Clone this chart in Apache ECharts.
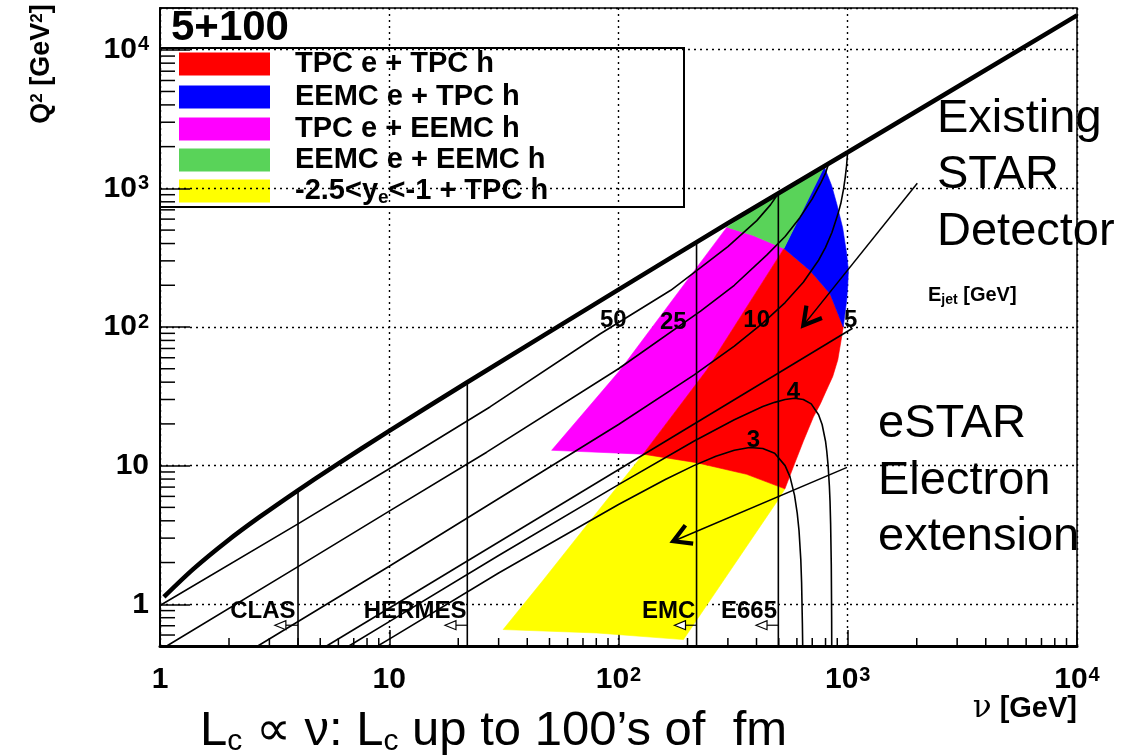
<!DOCTYPE html>
<html><head><meta charset="utf-8">
<script src="https://cdn.jsdelivr.net/npm/echarts@6/dist/echarts.min.js"></script>
<style>html,body{margin:0;padding:0;background:#fff}#c{width:1122px;height:756px}</style>
</head><body><div id="c"></div>
<script>
// ---------------- data ----------------
const xTickValues = [1, 10, 100, 1000, 10000];
const xTickLabels = ['1', '10', '10{sup|2}', '10{sup|3}', '10{sup|4}'];
const yTickValues = [1, 10, 100, 1000, 10000];
const yTickLabels = ['1', '10', '10{sup|2}', '10{sup|3}', '10{sup|4}'];
const xMinorTicks = [2,3,4,5,6,7,8,9,20,30,40,50,60,70,80,90,200,300,400,500,600,700,800,900,2000,3000,4000,5000,6000,7000,8000,9000];
const yMinorTicks = [0.6,0.7,0.8,0.9,2,3,4,5,6,7,8,9,20,30,40,50,60,70,80,90,200,300,400,500,600,700,800,900,2000,3000,4000,5000,6000,7000,8000,9000];

// kinematic limit (thick line), [nu, Q2]
const kinLimit = [[1.04,1.13],[1.4,1.8],[1.96,2.85],[2.73,4.28],[4,6.64],[5.7,9.8],[10,17.8],[21.9,39.9],[100,186],[300,560],[1000,1820],[10000,17700]];

// E_jet curves [nu, Q2]
const ejet50 = [[1,0.98],[4,3.8],[10,9.5],[27.5,26.5],[83,89],[169,184],[228,268],[300,380],[401,585],[460,760],[505,950]];
const ejet25 = [[1.07,0.5],[4,1.87],[10,4.7],[26.6,12.5],[100,50],[228,130],[320,200],[443,330],[533,450],[618,615],[700,840],[760,1080],[800,1290],[822,1480]];
const ejet10 = [[2.67,0.5],[10,1.88],[100,19.8],[213,45],[320,72.9],[426,106.7],[533,150],[640,210],[746,303],[800,375],[853,480],[906,652],[933,780],[959,990],[975,1200],[988,1450],[998,1800]];
const ejet5  = [[5.33,0.5],[1050,98]];
const ejet4  = [[6.67,0.5],[10,0.75],[30,2.25],[100,7.3],[213,15],[320,21.4],[426,26.7],[480,28.6],[533,30],[586,30.6],[640,30],[693,27.9],[746,23.3],[773,19.8],[800,15],[810,12.7],[821,10],[831.5,7.1],[837,5.5],[842,3.8],[847.5,1.94],[850.7,0.79],[851.4,0.5]];
const ejet3  = [[8.9,0.5],[10,0.56],[30,1.68],[100,5.24],[160,7.94],[213,10],[266,11.7],[320,12.9],[373,13.5],[426,13.3],[480,12.3],[533,10],[560,8.3],[586,6.1],[602,4.55],[613,3.4],[624,2.1],[629,1.44],[634,0.73],[636,0.5]];
const ejetLabelText = ['50','25','10','5','4','3'];
const ejetLabelPos = [[94.9,111.6],[173.4,108.5],[400.6,111.6],[1030,111.6],[578.9,33.9],[387.3,15.2]];

// fixed-target experiments
const expNames = ['CLAS','HERMES','EMC','E665'];
const expNu = [4.0, 21.9, 219, 498];
const expTopQ2 = [6.64, 40, 400, 940];
const expArrowTipNu = [3.17, 17.5, 175.5, 398];
const expArrowQ2 = 0.706;
const expLabelNu = [2.81, 12.96, 165.6, 370.9];
const expLabelQ2 = 0.89;

// acceptance regions [nu, Q2]
const regionYellow  = [[128,12.1],[219,10.5],[362,8.66],[532,6.8],[490,5.47],[192,0.556],[80.3,0.621],[31.4,0.657],[46.9,1.49]];
const regionMagenta = [[297,525],[387,457],[527,369],[242,48.7],[128,12.1],[51.1,12.9],[101.5,48.7]];
const regionRed     = [[527,369],[684,256],[837,174],[956,100],[935,80],[905,58],[860,44],[801,34],[760,28],[708,22.4],[640,15],[579,9.8],[532,6.8],[362,8.66],[219,10.5],[128,12.1],[242,48.7]];
const regionBlue    = [[790,1430],[850,1050],[895,774],[950,520],[989,338],[1006,256],[1000,200],[989,155],[956,100],[837,174],[684,256],[527,369]];
const regionGreen   = [[297,525],[400,735],[509,950],[650,1200],[790,1430],[527,369],[387,457]];
const legendNames = ['TPC e + TPC h','EEMC e + TPC h','TPC e + EEMC h','EEMC e + EEMC h','-2.5<y{sub|e}<-1 + TPC h'];

// annotation arrows
const annotArrowStart = [[2011,1090],[993,9.72]];
const annotArrowTip   = [[640,102.7],[173.4,2.85]];

// ---------------- styling ----------------
const FONT = "'Liberation Sans', Arial, Helvetica, sans-serif";
const regions = [regionYellow, regionMagenta, regionRed, regionBlue, regionGreen];
const regionColors = ['#ffff00', '#ff00ff', '#ff0000', '#0000ff', '#59d359'];
const legendColors = ['#ff0000', '#0000ff', '#ff00ff', '#59d359', '#ffff00'];

function lineSeries(data, width, smooth) {
  return {type:'line', data:data, symbol:'none', smooth:smooth || false, silent:true, animation:false,
    lineStyle:{color:'#000', width:width}, z:5, clip:true};
}
function fmt(values, labels) {
  return function (v) {
    for (let i = 0; i < values.length; i++) if (Math.abs(v - values[i]) / values[i] < 1e-6) return labels[i];
    return '';
  };
}
const supRich = {sup:{fontSize:20, fontWeight:'bold', fontFamily:FONT, color:'#000', verticalAlign:'top', padding:[0,0,0,1]}};

const series = [];
// regions
series.push({type:'custom', coordinateSystem:'cartesian2d', silent:true, animation:false, z:2,
  data: regions.map(r => r[0]),
  renderItem: function (params, api) {
    const pts = regions[params.dataIndex].map(p => api.coord(p));
    const c = regionColors[params.dataIndex];
    return {type:'polygon', shape:{points:pts, smooth:0}, style:{fill:c, stroke:c, lineWidth:0.6}};
  }});
// curves
[ejet50, ejet25, ejet10, ejet5, ejet4, ejet3].forEach(d => series.push(lineSeries(d, 1.6)));
// experiment vertical lines
expNu.forEach((nu, i) => series.push(lineSeries([[nu, 0.5], [nu, expTopQ2[i]]], 1.6)));
// kinematic limit
series.push(Object.assign(lineSeries(kinLimit, 4.6, 0.3), {z:6}));
// experiment arrows
series.push({type:'custom', coordinateSystem:'cartesian2d', silent:true, animation:false, z:7,
  data: expNu.map(nu => [nu, expArrowQ2]),
  renderItem: function (params, api) {
    const i = params.dataIndex;
    const a = api.coord([expNu[i], expArrowQ2]);
    const t = api.coord([expArrowTipNu[i], expArrowQ2]);
    const base = t[0] + 11;
    return {type:'group', children:[
      {type:'line', shape:{x1:a[0], y1:a[1], x2:base, y2:t[1]}, style:{stroke:'#000', lineWidth:1.2}},
      {type:'polygon', shape:{points:[[t[0], t[1]], [base, t[1]-4.5], [base, t[1]+4.5]]}, style:{fill:'#fff', stroke:'#000', lineWidth:1.2}}
    ]};
  }});
// annotation arrows
series.push({type:'custom', coordinateSystem:'cartesian2d', silent:true, animation:false, z:8,
  data: annotArrowStart,
  renderItem: function (params, api) {
    const i = params.dataIndex;
    const s = api.coord(annotArrowStart[i]);
    const t = api.coord(annotArrowTip[i]);
    const ang = Math.atan2(s[1]-t[1], s[0]-t[0]);
    const L = 20, w = 0.52;
    const b1 = [t[0] + L*Math.cos(ang+w), t[1] + L*Math.sin(ang+w)];
    const b2 = [t[0] + L*Math.cos(ang-w), t[1] + L*Math.sin(ang-w)];
    return {type:'group', children:[
      {type:'line', shape:{x1:s[0], y1:s[1], x2:t[0], y2:t[1]}, style:{stroke:'#000', lineWidth:1.5}},
      {type:'polyline', shape:{points:[b1, t, b2]}, style:{stroke:'#000', lineWidth:4.2, fill:null, lineJoin:'miter'}}
    ]};
  }});
// E_jet labels
series.push({type:'custom', coordinateSystem:'cartesian2d', silent:true, animation:false, z:9,
  data: ejetLabelPos,
  renderItem: function (params, api) {
    const p = api.coord(ejetLabelPos[params.dataIndex]);
    return {type:'text', x:p[0], y:p[1], style:{text:ejetLabelText[params.dataIndex], fontSize:24, fontWeight:'bold', fontFamily:FONT, fill:'#000', align:'center', verticalAlign:'middle'}};
  }});
// experiment labels
series.push({type:'custom', coordinateSystem:'cartesian2d', silent:true, animation:false, z:9,
  data: expLabelNu.map(nu => [nu, expLabelQ2]),
  renderItem: function (params, api) {
    const p = api.coord([expLabelNu[params.dataIndex], expLabelQ2]);
    return {type:'text', x:p[0], y:p[1], style:{text:expNames[params.dataIndex], fontSize:24, fontWeight:'bold', fontFamily:FONT, fill:'#000', align:'center', verticalAlign:'middle'}};
  }});
// minor ticks
series.push({type:'custom', coordinateSystem:'cartesian2d', silent:true, animation:false, z:3,
  data: xMinorTicks.map(v => [v, 0.5]),
  renderItem: function (params, api) {
    const p = api.coord([xMinorTicks[params.dataIndex], 0.5]);
    return {type:'line', shape:{x1:p[0], y1:p[1], x2:p[0], y2:p[1]-8}, style:{stroke:'#000', lineWidth:1.5}};
  }});
series.push({type:'custom', coordinateSystem:'cartesian2d', silent:true, animation:false, z:3,
  data: yMinorTicks.map(v => [1, v]),
  renderItem: function (params, api) {
    const p = api.coord([1, yMinorTicks[params.dataIndex]]);
    return {type:'line', shape:{x1:p[0], y1:p[1], x2:p[0]+15, y2:p[1]}, style:{stroke:'#000', lineWidth:1.5}};
  }});

// graphic texts & legend
const graphics = [];
graphics.push({type:'text', x:171, y:28, style:{text:'5+100', fontSize:42, fontWeight:'bold', fontFamily:FONT, fill:'#000', verticalAlign:'middle'}});
graphics.push({type:'rect', shape:{x:160, y:48, width:524, height:159}, style:{fill:null, stroke:'#000', lineWidth:2}});
const legRowY = [64, 97, 129, 160, 191];
legendNames.forEach((n, i) => {
  graphics.push({type:'rect', shape:{x:179, y:legRowY[i]-11.5, width:91, height:23}, style:{fill:legendColors[i]}});
  graphics.push({type:'text', x:295, y:legRowY[i], style:{text:n, fontSize:29, fontWeight:'bold', fontFamily:FONT, fill:'#000', verticalAlign:'middle',
    rich:{sub:{fontSize:19, fontWeight:'bold', fontFamily:FONT, verticalAlign:'bottom', padding:[13,0,0,0]}}}});
});
const bigTxt = {fontSize:47, fontFamily:FONT, fill:'#000', verticalAlign:'middle'};
[['Existing',937,119],['STAR',937,175],['Detector',937,232],['eSTAR',878,424],['Electron',878,481],['extension',878,537]].forEach(t => {
  graphics.push({type:'text', x:t[1], y:t[2], style:Object.assign({text:t[0]}, bigTxt)});
});
graphics.push({type:'text', x:928, y:295, style:{text:'E{sub|jet} [GeV]', fontSize:20, fontWeight:'bold', fontFamily:FONT, fill:'#000', verticalAlign:'middle',
  rich:{sub:{fontSize:14, fontWeight:'bold', fontFamily:FONT, verticalAlign:'bottom', padding:[11,0,0,0]}}}});
graphics.push({type:'text', x:200, y:731, style:{text:'L{sub|c} \u221d \u03bd: L{sub|c} up to 100\u2019s of  fm', fontSize:49, fontFamily:FONT, fill:'#000', verticalAlign:'middle',
  rich:{sub:{fontSize:30, fontFamily:FONT, verticalAlign:'bottom', padding:[22,0,0,0]}}}});
graphics.push({type:'text', x:1077, y:709, style:{text:'{nu|\u03bd} [GeV]', fontSize:29, fontWeight:'bold', fontFamily:FONT, fill:'#000', align:'right', verticalAlign:'middle',
  rich:{nu:{fontSize:31, fontFamily:"'DejaVu Serif', serif", fontWeight:'normal'}}}});
graphics.push({type:'text', x:42, y:64, rotation:Math.PI/2, style:{text:'Q{sup|2} [GeV{sup|2}]', fontSize:27, fontWeight:'bold', fontFamily:FONT, fill:'#000', align:'center', verticalAlign:'middle',
  rich:{sup:{fontSize:17, fontWeight:'bold', fontFamily:FONT, verticalAlign:'top'}}}});

const axisCommon = {
  type:'log', logBase:10,
  splitLine:{show:true, lineStyle:{color:'#000', width:1.4, type:[2,4]}},
  minorTick:{show:false}, minorSplitLine:{show:false}
};
const option = {
  animation:false,
  backgroundColor:'#fff',
  grid:{left:160, top:8, width:917, height:638, show:true, borderColor:'#000', borderWidth:1.5, backgroundColor:'transparent', containLabel:false},
  xAxis: Object.assign({}, axisCommon, {
    min:1, max:10000,
    axisLine:{show:true, onZero:false, lineStyle:{color:'#000', width:3}},
    axisTick:{show:true, inside:true, length:16, lineStyle:{color:'#000', width:1.5}},
    axisLabel:{formatter:fmt(xTickValues, xTickLabels), fontSize:30, fontWeight:'bold', fontFamily:FONT, color:'#000', margin:19, rich:supRich}
  }),
  yAxis: Object.assign({}, axisCommon, {
    min:0.5, max:20000,
    axisLine:{show:true, onZero:false, lineStyle:{color:'#000', width:2}},
    axisTick:{show:true, inside:true, length:30, lineStyle:{color:'#000', width:1.5}},
    axisLabel:{formatter:fmt(yTickValues, yTickLabels), fontSize:30, fontWeight:'bold', fontFamily:FONT, color:'#000', margin:11, rich:supRich}
  }),
  series: series,
  graphic: {elements: graphics}
};
const chart = echarts.init(document.getElementById('c'));
chart.setOption(option);
</script>
</body></html>
